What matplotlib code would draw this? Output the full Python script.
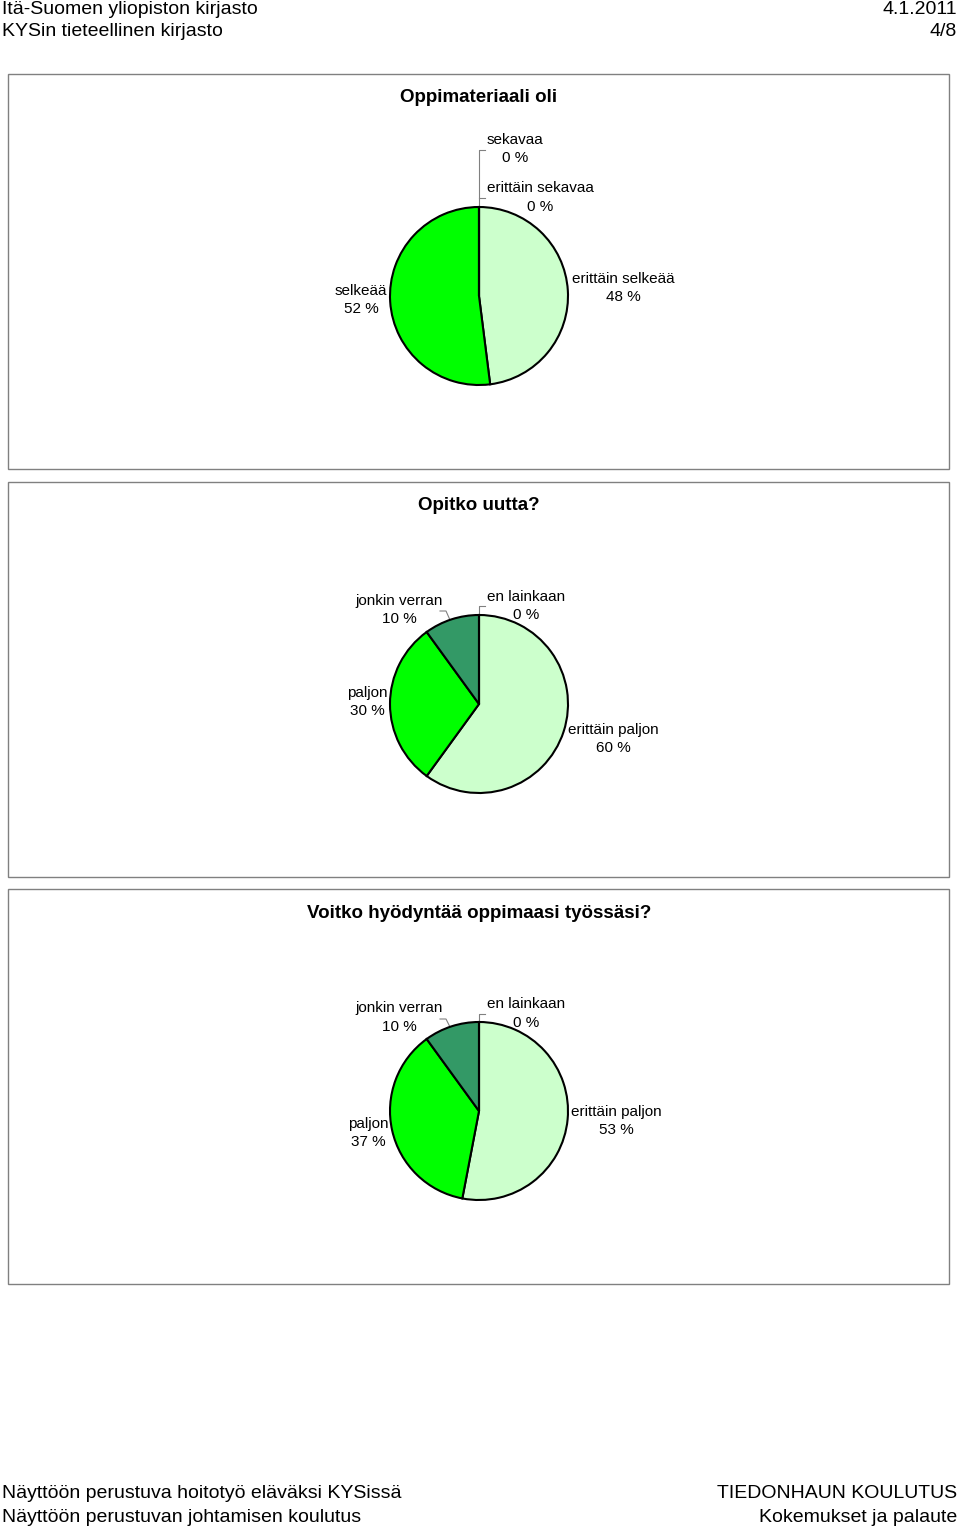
import matplotlib
matplotlib.use("Agg")
import matplotlib.pyplot as plt
from matplotlib.patches import Rectangle

plt.rcParams["font.family"] = "Liberation Sans"

titles = ["Oppimateriaali oli", "Opitko uutta?", "Voitko hyödyntää oppimaasi työssäsi?"]
cats1 = ["erittäin selkeää", "selkeää", "erittäin sekavaa", "sekavaa"]
vals1 = [48, 52, 0, 0]
cats2 = ["erittäin paljon", "paljon", "jonkin verran", "en lainkaan"]
vals2 = [60, 30, 10, 0]
cats3 = ["erittäin paljon", "paljon", "jonkin verran", "en lainkaan"]
vals3 = [53, 37, 10, 0]
colors1 = ["#CCFFCC", "#00FF00", "#339966", "#006600"]
colors2 = ["#CCFFCC", "#00FF00", "#339966", "#006600"]

W, H = 960, 1528
fig = plt.figure(figsize=(W/100, H/100), dpi=100)
bg = fig.add_axes([0, 0, 1, 1])
bg.set_xlim(0, W); bg.set_ylim(H, 0); bg.axis("off")

def T(x, y, s, **kw):
    kw.setdefault("fontsize", 11)
    kw.setdefault("ha", "center")
    kw.setdefault("va", "center")
    bg.text(x, y, s, **kw)

# header / footer
T(2, 9, "Itä-Suomen yliopiston kirjasto", fontsize=14, ha="left")
T(2, 32, "KYSin tieteellinen kirjasto", fontsize=14, ha="left")
T(957, 9, "4.1.2011", fontsize=14, ha="right")
T(957, 32, "4/8", fontsize=14, ha="right")
T(2, 1494, "Näyttöön perustuva hoitotyö eläväksi KYSissä", fontsize=14, ha="left")
T(2, 1517, "Näyttöön perustuvan johtamisen koulutus", fontsize=14, ha="left")
T(957, 1494, "TIEDONHAUN KOULUTUS", fontsize=14, ha="right")
T(957, 1517, "Kokemukset ja palaute", fontsize=14, ha="right")

panels = [(74, 469), (482, 877), (889, 1284)]
centers = [296, 704, 1111]
data = [(vals1, colors1), (vals2, colors2), (vals3, colors2)]
R = 89
for (y0, y1), cy, t, (v, c) in zip(panels, centers, titles, data):
    bg.add_patch(Rectangle((8, y0), 941, y1 - y0, fill=False, ec="#808080", lw=1))
    T(479, y0 + 24, t, fontsize=13.5, fontweight="bold")
    ax = fig.add_axes([(479 - 100)/W, 1 - (cy + 100)/H, 200/W, 200/H])
    ax.pie(v, colors=c, startangle=90, counterclock=False, radius=R/100,
           wedgeprops=dict(edgecolor="black", linewidth=1.5))
    ax.set_xlim(-1, 1); ax.set_ylim(-1, 1); ax.set_aspect("auto"); ax.axis("off")

# labels pie 1
T(515, 140, "sekavaa"); T(515, 158, "0 %")
T(540, 188, "erittäin sekavaa"); T(540, 207, "0 %")
T(623, 279, "erittäin selkeää"); T(623, 297, "48 %")
T(361, 291, "selkeää"); T(361, 309, "52 %")
bg.plot([479, 479, 485], [207, 150, 150], color="#808080", lw=0.8)
bg.plot([479, 485], [198, 198], color="#808080", lw=0.8)
# labels pie 2
T(399, 601, "jonkin verran"); T(399, 619, "10 %")
T(526, 597, "en lainkaan"); T(526, 615, "0 %")
T(367, 693, "paljon"); T(367, 711, "30 %")
T(613, 730, "erittäin paljon"); T(613, 748, "60 %")
bg.plot([479, 479, 485], [615, 606, 606], color="#808080", lw=0.8)
bg.plot([440, 446, 450], [611, 611, 620], color="#808080", lw=0.8)
# labels pie 3
T(399, 1008, "jonkin verran"); T(399, 1027, "10 %")
T(526, 1004, "en lainkaan"); T(526, 1023, "0 %")
T(368, 1124, "paljon"); T(368, 1142, "37 %")
T(616, 1112, "erittäin paljon"); T(616, 1130, "53 %")
bg.plot([479, 479, 485], [1022, 1014, 1014], color="#808080", lw=0.8)
bg.plot([440, 446, 450], [1019, 1019, 1027], color="#808080", lw=0.8)

fig.savefig("out.png", dpi=100)
